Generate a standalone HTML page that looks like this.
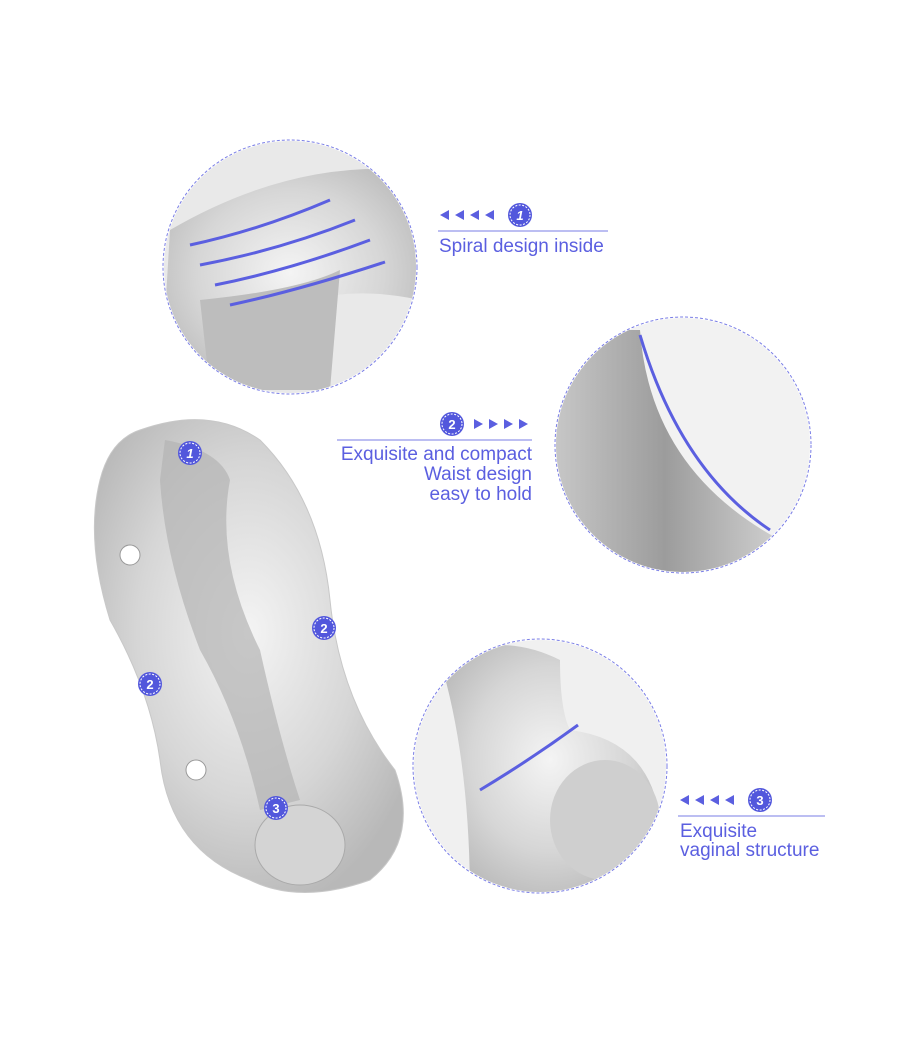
<!DOCTYPE html>
<html><head><style>
html,body{margin:0;padding:0;background:#fff;}
svg{display:block}
text{font-family:"Liberation Sans",sans-serif;fill:#5b5fe0}
</style></head><body>
<svg width="900" height="1050" viewBox="0 0 900 1050">
<defs>
<radialGradient id="g1" cx="0.5" cy="0.45" r="0.6">
<stop offset="0" stop-color="#f4f4f4"/><stop offset="0.6" stop-color="#d6d6d6"/><stop offset="1" stop-color="#b8b8b8"/>
</radialGradient>
<linearGradient id="g2" x1="0" y1="0" x2="1" y2="0">
<stop offset="0" stop-color="#c9c9c9"/><stop offset="0.5" stop-color="#9c9c9c"/><stop offset="1" stop-color="#d0d0d0"/>
</linearGradient>
<clipPath id="c1"><circle cx="290" cy="267" r="126"/></clipPath>
<clipPath id="c2"><circle cx="683" cy="445" r="127"/></clipPath>
<clipPath id="c3"><circle cx="540" cy="766" r="126"/></clipPath>
<g id="badge"><circle r="12" fill="#5257dc"/><circle r="10" fill="none" stroke="#fff" stroke-width="1" stroke-dasharray="2 1.5"/></g>
</defs>
<rect width="900" height="1050" fill="#fff"/>

<g clip-path="url(#c1)">
<rect x="160" y="140" width="260" height="260" fill="#e9e9e9"/>
<path d="M170 230 Q290 160 410 170 L420 300 Q330 280 260 320 L240 400 L160 400Z" fill="url(#g1)"/>
<path d="M200 300 Q300 290 340 270 L330 390 L210 390Z" fill="#bdbdbd"/>
<g fill="none" stroke="#5b5fe0" stroke-width="3">
<path d="M190 245 Q260 230 330 200"/><path d="M200 265 Q280 250 355 220"/><path d="M215 285 Q290 270 370 240"/><path d="M230 305 Q300 290 385 262"/>
</g>
</g>
<circle cx="290" cy="267" r="127" fill="none" stroke="#7a7ee6" stroke-width="1" stroke-dasharray="3 2"/>

<g clip-path="url(#c2)">
<rect x="550" y="310" width="270" height="270" fill="#f2f2f2"/>
<path d="M550 330 L640 330 Q650 470 780 540 L780 580 L550 580Z" fill="url(#g2)"/>
<path d="M640 335 Q680 470 770 530" fill="none" stroke="#5b5fe0" stroke-width="3"/>
</g>
<circle cx="683" cy="445" r="128" fill="none" stroke="#7a7ee6" stroke-width="1" stroke-dasharray="3 2"/>

<g clip-path="url(#c3)">
<rect x="410" y="640" width="260" height="260" fill="#f0f0f0"/>
<path d="M440 660 Q500 630 560 660 Q560 710 570 730 Q650 740 660 820 Q650 900 540 900 L470 900 Q470 760 440 660Z" fill="url(#g1)"/>
<ellipse cx="605" cy="820" rx="55" ry="60" fill="#cfcfcf"/>
<path d="M480 790 Q530 760 578 725" fill="none" stroke="#5b5fe0" stroke-width="3"/>
</g>
<circle cx="540" cy="766" r="127" fill="none" stroke="#7a7ee6" stroke-width="1" stroke-dasharray="3 2"/>

<path d="M140 430 Q210 405 260 440 Q320 500 330 600 Q340 700 395 770 Q420 840 370 880 Q300 905 250 880 Q170 850 160 760 Q150 690 110 620 Q85 540 100 480 Q110 440 140 430Z" fill="url(#g1)" stroke="#c8c8c8"/>
<path d="M165 440 Q220 450 230 480 Q215 560 260 650 Q280 740 300 800 L260 810 Q240 720 200 650 Q165 560 160 480Z" fill="#b4b4b4" opacity="0.7"/>
<ellipse cx="300" cy="845" rx="45" ry="40" fill="#d4d4d4" stroke="#aaa"/>
<circle cx="130" cy="555" r="10" fill="#fff" stroke="#999"/>
<circle cx="196" cy="770" r="10" fill="#fff" stroke="#999"/>

<use href="#badge" x="190" y="453"/><text x="190" y="458" font-size="13" text-anchor="middle" style="fill:#fff;font-weight:bold;font-style:italic">1</text>
<use href="#badge" x="324" y="628"/><text x="324" y="633" font-size="13" text-anchor="middle" style="fill:#fff;font-weight:bold">2</text>
<use href="#badge" x="150" y="684"/><text x="150" y="689" font-size="13" text-anchor="middle" style="fill:#fff;font-weight:bold">2</text>
<use href="#badge" x="276" y="808"/><text x="276" y="813" font-size="13" text-anchor="middle" style="fill:#fff;font-weight:bold">3</text>

<g fill="#5b5fe0">
<path d="M440 215 l9 -5 v10z M455 215 l9 -5 v10z M470 215 l9 -5 v10z M485 215 l9 -5 v10z"/>
</g>
<use href="#badge" x="520" y="215"/><text x="520" y="220" font-size="13" text-anchor="middle" style="fill:#fff;font-weight:bold;font-style:italic">1</text>
<line x1="438" y1="231" x2="608" y2="231" stroke="#7a7ee6" stroke-width="1"/>
<text x="439" y="252" font-size="19">Spiral design inside</text>

<use href="#badge" x="452" y="424"/><text x="452" y="429" font-size="13" text-anchor="middle" style="fill:#fff;font-weight:bold">2</text>
<g fill="#5b5fe0">
<path d="M474 419 l9 5 l-9 5z M489 419 l9 5 l-9 5z M504 419 l9 5 l-9 5z M519 419 l9 5 l-9 5z"/>
</g>
<line x1="337" y1="440" x2="532" y2="440" stroke="#7a7ee6" stroke-width="1"/>
<text x="532" y="460" font-size="19" text-anchor="end">Exquisite and compact</text>
<text x="532" y="480" font-size="19" text-anchor="end">Waist design</text>
<text x="532" y="500" font-size="19" text-anchor="end">easy to hold</text>

<g fill="#5b5fe0">
<path d="M680 800 l9 -5 v10z M695 800 l9 -5 v10z M710 800 l9 -5 v10z M725 800 l9 -5 v10z"/>
</g>
<use href="#badge" x="760" y="800"/><text x="760" y="805" font-size="13" text-anchor="middle" style="fill:#fff;font-weight:bold">3</text>
<line x1="678" y1="816" x2="825" y2="816" stroke="#7a7ee6" stroke-width="1"/>
<text x="680" y="837" font-size="19">Exquisite</text>
<text x="680" y="856" font-size="19">vaginal structure</text>
</svg>
</body></html>
